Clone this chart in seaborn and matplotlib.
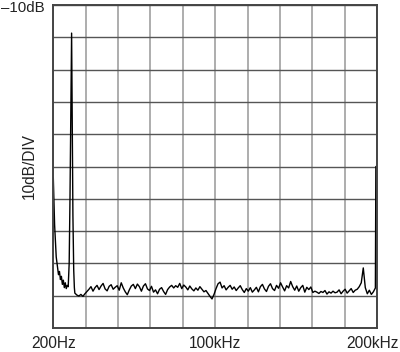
import numpy as np
import pandas as pd
import matplotlib
matplotlib.use("Agg")
import matplotlib.pyplot as plt
import seaborn as sns

# ---- data ----
x_min_khz, x_max_khz = 0.2, 200.0
y_top_db, y_bottom_db = -10.0, -110.0
x_tick_labels = ["200Hz", "100kHz", "200kHz"]
y_top_label = "\u201310dB"
y_axis_label = "10dB/DIV"

# left edge + fundamental (kHz, dB)
head_freq = [0.2, 1.0, 2.0, 2.8, 3.4, 4.0, 4.6, 5.2, 5.8, 6.4, 7.0, 7.6, 8.2,
             8.8, 9.4, 10.0, 10.5, 11.0, 11.5, 11.9, 12.3, 12.8, 13.2]
head_db = [-63.5, -78.0, -88.0, -91.0, -93.5, -92.5, -95.0, -94.0, -96.5,
           -95.2, -97.5, -96.0, -97.8, -96.8, -97.2, -90.0, -70.0, -45.0,
           -18.7, -45.0, -75.0, -92.0, -97.5]

# noise floor bins from 13.5 kHz to 199 kHz
noise_start_khz, noise_end_khz = 13.5, 199.0
noise_db = [
    -99.2, -99.8, -100.1, -99.6, -100.2, -99.4, -98.7, -98.0, -97.2, -98.6,
    -97.5, -96.8, -98.1, -97.0, -96.2, -97.9, -98.5, -97.1, -96.6, -98.0,
    -97.4, -96.9, -98.3, -96.0, -97.6, -98.8, -99.7, -98.2, -97.0, -96.5,
    -97.8, -96.4, -97.2, -98.6, -97.0, -96.3, -97.9, -98.4, -97.1, -98.9,
    -98.2, -99.4, -98.0, -97.5, -98.7, -99.6, -98.1, -97.3, -96.8, -97.6,
    -96.9, -97.4, -96.2, -97.8, -96.7, -97.3, -98.2, -97.0, -97.9, -98.5,
    -97.6, -98.3, -97.2, -98.0, -98.8, -98.4, -99.3, -100.2, -101.0, -99.6,
    -97.8, -96.3, -95.8, -97.6, -96.9, -98.2, -97.4, -96.8, -98.0, -97.3,
    -98.4, -97.6, -96.9, -98.1, -99.0, -97.8, -98.6, -97.5, -98.9, -98.2,
    -97.4, -98.8, -97.2, -96.5, -97.9, -98.7, -97.1, -96.3, -97.8, -98.4,
    -96.8, -97.7, -96.0, -97.3, -98.5, -96.9, -97.6, -95.6, -97.2, -98.3,
    -97.0, -98.6, -97.5, -96.8, -98.9, -97.4, -98.1, -97.3, -99.0, -98.6,
    -98.9, -99.3, -98.7, -99.0, -98.4, -99.5, -98.8, -99.2, -98.6, -99.1,
    -98.9, -98.2, -99.4, -98.6, -98.0, -99.2, -98.5, -97.8, -99.0, -98.3,
    -98.0, -97.2, -96.0, -91.4, -97.5, -99.4, -98.3, -99.6, -98.8, -97.6,
]

# right edge
tail_freq = [199.3]
tail_db = [-60.0]

# ---- build table ----
noise_freq = np.linspace(noise_start_khz, noise_end_khz, len(noise_db))
freq = np.concatenate([head_freq, noise_freq, tail_freq])
level = np.concatenate([head_db, noise_db, tail_db])
df = pd.DataFrame({"freq": freq, "level": level})

# ---- plot ----
sns.set_style("white")
plt.rcParams["font.family"] = ["Liberation Sans", "DejaVu Sans"]

fig = plt.figure(figsize=(4.0, 3.52), dpi=100)
ax = fig.add_axes([53.3 / 400, 1 - 328 / 352, (377 - 53.3) / 400, (328 - 5) / 352])

sns.lineplot(data=df, x="freq", y="level", sort=False, estimator=None,
             color="black", linewidth=1.0, ax=ax)

ax.set_xlim(x_min_khz, x_max_khz)
ax.set_ylim(y_bottom_db, y_top_db)

xt = np.linspace(x_min_khz, x_max_khz, 11)
ax.set_xticks(xt)
lbls = [""] * 11
lbls[0], lbls[5] = x_tick_labels[0], x_tick_labels[1]
ax.set_xticklabels(lbls, fontsize=11.2, color="#222222")
ax.set_yticks(np.linspace(y_bottom_db, y_top_db, 11))
ax.set_yticklabels([])
ax.tick_params(axis="both", length=0, pad=6)
fig.text(399 / 400, 1 - 343 / 352, x_tick_labels[2], ha="right", va="center",
         fontsize=11.2, color="#222222")

ax.xaxis.grid(True, color="#a0a0a0", linewidth=1.2)
ax.yaxis.grid(True, color="#555555", linewidth=1.0)
ax.set_axisbelow(True)
for s in ax.spines.values():
    s.set_color("#444444")
    s.set_linewidth(1.4)

ax.set_xlabel("")
ax.set_ylabel(y_axis_label, fontsize=11.2, color="#222222", labelpad=6)
fig.text(1 / 400, 1 - 8 / 352, y_top_label, ha="left", va="center",
         fontsize=10.8, color="#222222")

fig.savefig("out.png", dpi=100)
